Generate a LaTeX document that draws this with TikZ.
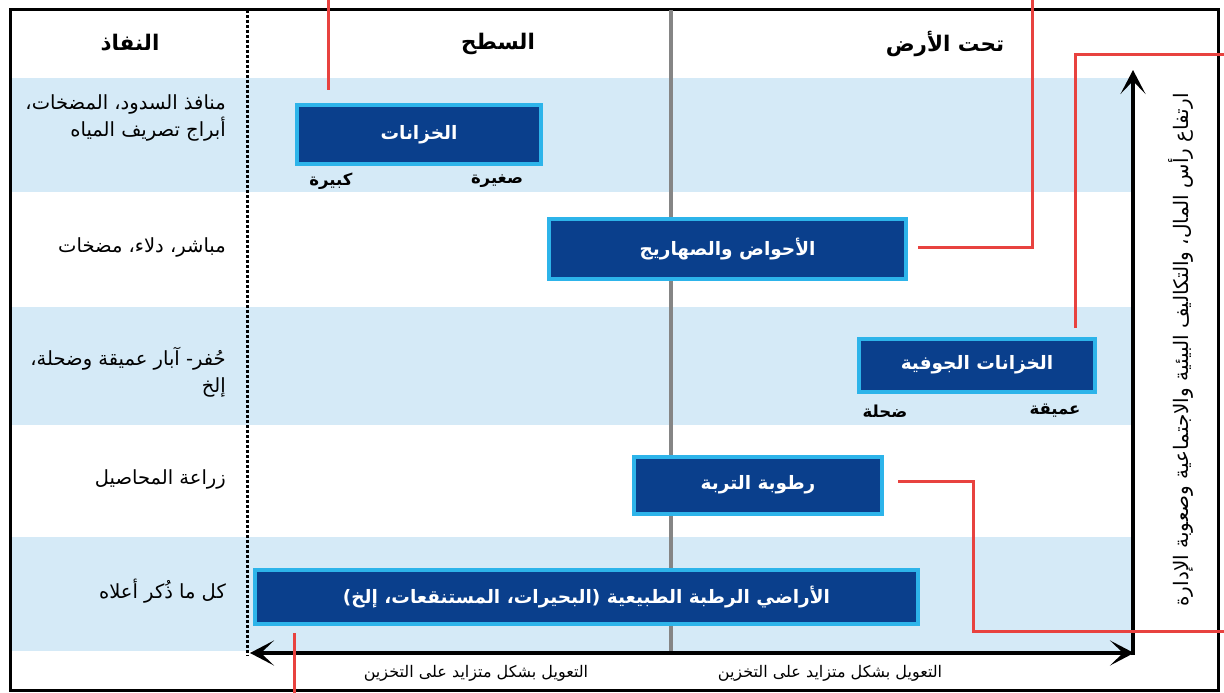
\documentclass[tikz,border=0pt]{standalone}
\usepackage{fontspec}
\setmainfont{Liberation Sans}
\newfontfamily\ar[Script=Arabic]{DejaVu Sans}
\TeXXeTstate=1
\usetikzlibrary{arrows.meta}
\definecolor{band}{HTML}{D5EAF7}
\definecolor{boxfill}{HTML}{0A3F8C}
\definecolor{boxedge}{HTML}{2DB4EA}
\definecolor{redline}{HTML}{E8423F}
\definecolor{graydiv}{HTML}{858585}
\tikzset{
  store/.style={draw=boxedge, line width=4pt, fill=boxfill, text=white, inner sep=0pt,
    font=\ar\bfseries\fontsize{18.5}{22}\selectfont},
  header/.style={font=\ar\bfseries\fontsize{21.5}{25}\selectfont, inner sep=0pt},
  access/.style={font=\ar\fontsize{19.5}{27}\selectfont, align=right, anchor=east, inner sep=0pt},
  scale label/.style={font=\ar\bfseries\fontsize{16.5}{19}\selectfont, inner sep=0pt},
  foot/.style={font=\ar\fontsize{16}{19}\selectfont, inner sep=0pt},
  leader/.style={draw=redline, line width=3pt},
  axis/.style={line width=3.5pt},
  axtip/.tip={Stealth[length=24pt,width=25pt,inset=13pt]},
}
\begin{document}
\begin{tikzpicture}[x=1pt,y=-1pt]
\useasboundingbox (0,0) rectangle (1224,693);
\fill[white] (0,0) rectangle (1224,693);
% bands
\foreach \a/\b in {78/192, 307/425, 537/651}
  \fill[band] (10,\a) rectangle (1133,\b);
% frame
\draw[line width=3pt] (10,10) rectangle (1218,690);
% column dividers
\draw[line width=3pt, dash pattern=on 3pt off 2pt] (247,10) -- (247,656);
\draw[graydiv, line width=4pt] (671,10) -- (671,653);
% headers
\node[header] (hAccess) at (130,43) {\beginR النفاذ\endR};
\node[header] (hSurface) at (498,44) {\beginR السطح\endR};
\node[header] (hUnder) at (945,44) {\beginR تحت الأرض\endR};
% access texts
\node[access] (t1) at (226,118) {\beginR منافذ السدود، المضخات،\endR\\\beginR أبراج تصريف المياه\endR};
\node[access] (t2) at (226,247) {\beginR مباشر، دلاء، مضخات\endR};
\node[access] (t3) at (226,372) {\beginR حُفر- آبار عميقة وضحلة،\endR\\\beginR إلخ\endR};
\node[access] (t4) at (226,479) {\beginR زراعة المحاصيل\endR};
\node[access] (t5) at (226,591) {\beginR كل ما ذُكر أعلاه\endR};
% storage boxes
\node[store, minimum width=244pt, minimum height=59pt] (res) at (419,134.5) {\beginR الخزانات\endR};
\node[store, minimum width=357pt, minimum height=60pt] (tanks) at (727.5,249) {\beginR الأحواض والصهاريج\endR};
\node[store, minimum width=236pt, minimum height=53pt] (aq) at (977,365) {\beginR الخزانات الجوفية\endR};
\node[store, minimum width=248pt, minimum height=57pt] (soil) at (758,485) {\beginR رطوبة التربة\endR};
\node[store, minimum width=663pt, minimum height=54pt] (wet) at (586.5,597) {\beginR الأراضي الرطبة الطبيعية (البحيرات، المستنقعات، إلخ)\endR};
% scale labels
\node[scale label] (big) at (331,181) {\beginR كبيرة\endR};
\node[scale label] (small) at (497,181) {\beginR صغيرة\endR};
\node[scale label] (shallow) at (885,411) {\beginR ضحلة\endR};
\node[scale label] (deep) at (1055,411) {\beginR عميقة\endR};
% axes
\coordinate (axL) at (250,653);
\coordinate (axR) at (1134,653);
\coordinate (axB) at (1133,655);
\coordinate (axT) at (1133,70);
\draw[axis, axtip-axtip] (axL) -- (axR);
\draw[axis, -axtip] (axB) -- (axT);
\node[foot] (f1) at (476,673) {\beginR التعويل بشكل متزايد على التخزين\endR};
\node[foot] (f2) at (830,673) {\beginR التعويل بشكل متزايد على التخزين\endR};
\node[font=\ar\fontsize{20}{24}\selectfont, rotate=90, inner sep=0pt] (vert) at (1181,350)
  {\beginR ارتفاع رأس المال، والتكاليف البيئية والاجتماعية وصعوبة الإدارة\endR};
% red leader lines
\coordinate (r1a) at (328,0); \coordinate (r1b) at (328,90);
\draw[leader] (r1a) -- (r1b);
\coordinate (r2a) at (918,247); \coordinate (r2b) at (1032,0);
\draw[leader] (r2a) -| (r2b);
\coordinate (r3a) at (1075,328); \coordinate (r3b) at (1224,55);
\draw[leader] (r3a) |- (r3b);
\coordinate (r4a) at (898,481); \coordinate (r4b) at (973,481); \coordinate (r4c) at (1224,631);
\draw[leader] (r4a) -- (r4b) |- (r4c);
\coordinate (r5a) at (294,633); \coordinate (r5b) at (294,693);
\draw[leader] (r5a) -- (r5b);
\end{tikzpicture}
\end{document}
